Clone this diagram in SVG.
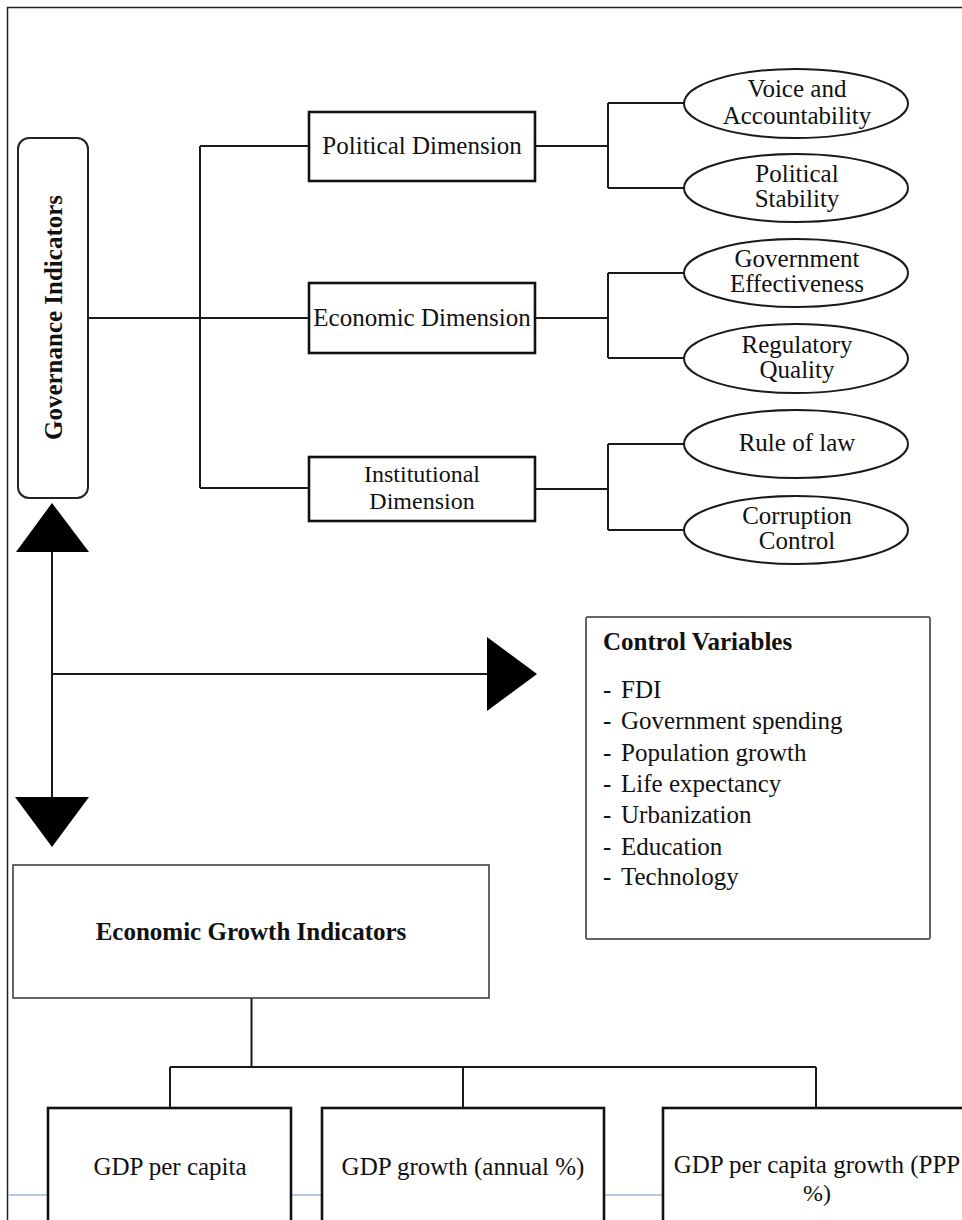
<svg xmlns="http://www.w3.org/2000/svg" width="962" height="1220" viewBox="0 0 962 1220">
  <style>
    text { font-family: "Liberation Serif", "Times New Roman", serif; font-size: 25px; fill: #111; }
    .b { font-weight: bold; }
    .mid { text-anchor: middle; }
    .s24 { font-size: 24px; }
    .conn { fill: none; stroke: #1a1a1a; stroke-width: 2; }
    .thick { fill: #fff; stroke: #111; stroke-width: 2.6; }
    .ell { fill: #fff; stroke: #1a1a1a; stroke-width: 2; }
    .thin { fill: #fff; stroke: #333; stroke-width: 1.5; }
    .head { fill: #000; stroke: none; }
  </style>
  <rect x="0" y="0" width="962" height="1220" fill="#fff"/>
  <!-- outer frame -->
  <path d="M7.5 1220 V7.5 H962" fill="none" stroke="#222" stroke-width="1.5"/>
  <!-- faint blue line behind bottom boxes -->
  <line x1="8" y1="1195" x2="962" y2="1195" stroke="#9db8d8" stroke-width="1.5"/>

  <g id="connectors">
    <path class="conn" d="M88 318 H309 M200 146 V488 M200 146 H309 M200 488 H309"/>
    <path class="conn" d="M535 146 H608 M608 103 V188 M608 103 H684 M608 188 H684"/>
    <path class="conn" d="M535 318 H608 M608 273 V358 M608 273 H684 M608 358 H684"/>
    <path class="conn" d="M535 489 H608 M608 444 V530 M608 444 H684 M608 530 H684"/>
    <path class="conn" d="M52 552 V797 M52 674 H487"/>
    <polygon class="head" points="52,503 16,552 89,552"/>
    <polygon class="head" points="15,797 89,797 52,847"/>
    <polygon class="head" points="487,637 487,711 537,674"/>
    <path class="conn" d="M251.5 998 V1067 M170 1067 H816 M170 1067 V1108 M463 1067 V1108 M816 1067 V1108"/>
  </g>

  <g id="governance">
    <rect x="18" y="138" width="70" height="360" rx="11" fill="#fff" stroke="#222" stroke-width="2"/>
    <text class="b mid" transform="translate(62,317.5) rotate(-90)">Governance Indicators</text>
  </g>

  <g id="political">
    <rect class="thick" x="309" y="112" width="226" height="69"/>
    <text class="mid" x="422" y="154">Political Dimension</text>
  </g>
  <g id="economic">
    <rect class="thick" x="309" y="283" width="226" height="70"/>
    <text class="mid" x="422" y="326">Economic Dimension</text>
  </g>
  <g id="institutional">
    <rect class="thick" x="309" y="457" width="226" height="64"/>
    <text class="mid s24" x="422" y="482">Institutional</text>
    <text class="mid s24" x="422" y="509">Dimension</text>
  </g>

  <g id="voice">
    <ellipse class="ell" cx="796" cy="103.5" rx="112" ry="34.5"/>
    <text class="mid" x="797" y="97">Voice and</text>
    <text class="mid" x="797" y="124">Accountability</text>
  </g>
  <g id="stability">
    <ellipse class="ell" cx="796" cy="188" rx="112" ry="34"/>
    <text class="mid" x="797" y="182">Political</text>
    <text class="mid" x="797" y="207">Stability</text>
  </g>
  <g id="effectiveness">
    <ellipse class="ell" cx="796" cy="273" rx="112" ry="34"/>
    <text class="mid" x="797" y="267">Government</text>
    <text class="mid" x="797" y="292">Effectiveness</text>
  </g>
  <g id="regulatory">
    <ellipse class="ell" cx="796" cy="358.5" rx="112" ry="34.5"/>
    <text class="mid" x="797" y="353">Regulatory</text>
    <text class="mid" x="797" y="378">Quality</text>
  </g>
  <g id="rulelaw">
    <ellipse class="ell" cx="796" cy="444" rx="112" ry="34"/>
    <text class="mid" x="797" y="451">Rule of law</text>
  </g>
  <g id="corruption">
    <ellipse class="ell" cx="796" cy="530" rx="112" ry="34"/>
    <text class="mid" x="797" y="524">Corruption</text>
    <text class="mid" x="797" y="549">Control</text>
  </g>

  <g id="control">
    <rect class="thin" x="586" y="617" width="344" height="322" rx="1.5"/>
    <text class="b" x="603" y="650">Control Variables</text>
    <g>
      <text x="603" y="698">-</text><text x="621" y="698">FDI</text>
      <text x="603" y="729">-</text><text x="621" y="729">Government spending</text>
      <text x="603" y="761">-</text><text x="621" y="761">Population growth</text>
      <text x="603" y="792">-</text><text x="621" y="792">Life expectancy</text>
      <text x="603" y="823">-</text><text x="621" y="823">Urbanization</text>
      <text x="603" y="855">-</text><text x="621" y="855">Education</text>
      <text x="603" y="885">-</text><text x="621" y="885">Technology</text>
    </g>
  </g>

  <g id="egi">
    <rect class="thin" x="13" y="865" width="476" height="133"/>
    <text class="b mid" x="251" y="940">Economic Growth Indicators</text>
  </g>

  <g id="gdppc">
    <rect class="thick" x="48" y="1108" width="243" height="160"/>
    <text class="mid" x="170" y="1175">GDP per capita</text>
  </g>
  <g id="gdpgrowth">
    <rect class="thick" x="322" y="1108" width="282" height="160"/>
    <text class="mid" x="463" y="1175">GDP growth (annual %)</text>
  </g>
  <g id="gdppcgrowth">
    <rect class="thick" x="663" y="1108" width="400" height="160"/>
    <text class="mid" x="817" y="1173">GDP per capita growth (PPP</text>
    <text class="mid s24" x="817" y="1201">%)</text>
  </g>
</svg>
